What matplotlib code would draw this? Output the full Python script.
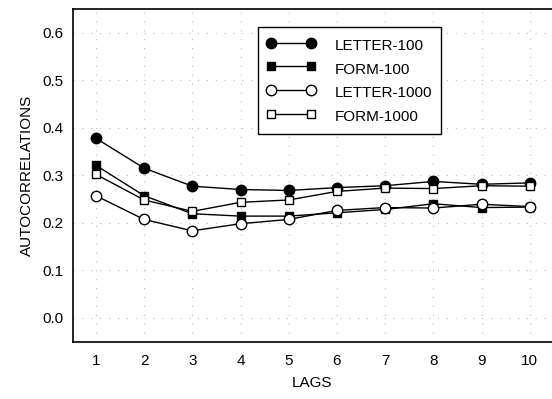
import matplotlib
matplotlib.use('Agg')
import matplotlib.pyplot as plt

plt.rcParams['font.family'] = ['Liberation Sans', 'DejaVu Sans']

lags = [1, 2, 3, 4, 5, 6, 7, 8, 9, 10]
letter_100 = [0.378, 0.315, 0.277, 0.270, 0.268, 0.274, 0.278, 0.287, 0.281, 0.284]
form_100 = [0.321, 0.257, 0.219, 0.214, 0.214, 0.221, 0.228, 0.240, 0.232, 0.233]
letter_1000 = [0.257, 0.207, 0.183, 0.198, 0.207, 0.226, 0.232, 0.231, 0.239, 0.234]
form_1000 = [0.302, 0.248, 0.224, 0.243, 0.248, 0.266, 0.273, 0.272, 0.278, 0.277]

fig = plt.figure(figsize=(5.52, 3.99), dpi=100)
ax = fig.add_axes([0.1317, 0.1429, 0.8683, 0.8345])

ax.plot(lags, letter_100, 'k-', marker='o', ms=7.5, mfc='black', lw=1, label='LETTER-100')
ax.plot(lags, form_100, 'k-', marker='s', ms=6.2, mfc='black', lw=1, label='FORM-100')
ax.plot(lags, letter_1000, 'k-', marker='o', ms=7.5, mfc='white', lw=1, label='LETTER-1000')
ax.plot(lags, form_1000, 'k-', marker='s', ms=6.2, mfc='white', lw=1, label='FORM-1000')

ax.set_xlim(0.52, 10.46)
ax.set_ylim(-0.051, 0.65)
ax.set_xticks(lags)
ax.set_yticks([0.0, 0.1, 0.2, 0.3, 0.4, 0.5, 0.6])
ax.set_yticklabels(['0.0', '0.1', '0.2', '0.3', '0.4', '0.5', '0.6'])
ax.tick_params(length=0, labelsize=11)
ax.tick_params(axis='y', pad=6.8)
ax.tick_params(axis='x', pad=8.5)
ax.grid(True, color='#bbbbbb', linestyle=(0, (1, 7)), linewidth=0.8)
ax.spines['right'].set_visible(False)
for s in ['left', 'top', 'bottom']:
    ax.spines[s].set_linewidth(1.2)

ax.set_xlabel('LAGS', fontsize=11, labelpad=6)
ax.set_ylabel('AUTOCORRELATIONS', fontsize=11, labelpad=5.8)

leg = ax.legend(loc='upper left', bbox_to_anchor=(0.3866, 0.946), numpoints=2,
                fancybox=False, framealpha=1, edgecolor='black', fontsize=11,
                handlelength=3.2, handleheight=1.55, labelspacing=0.3,
                borderpad=0.55, handletextpad=1.3, borderaxespad=0)
leg.get_frame().set_linewidth(1.0)

fig.savefig('out.png', dpi=100)
